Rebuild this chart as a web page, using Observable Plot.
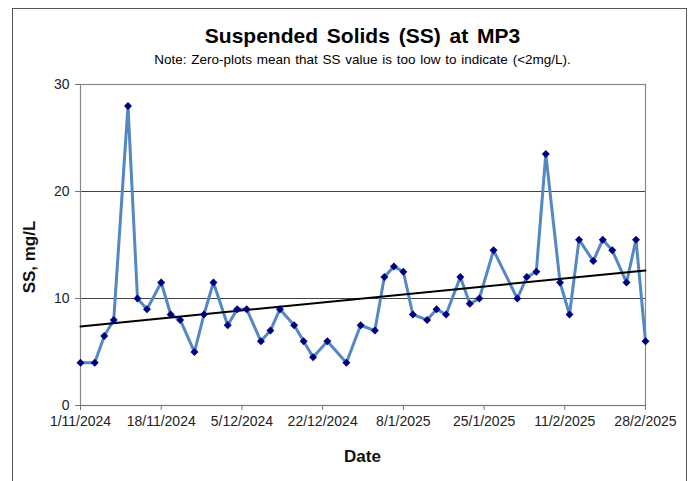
<!DOCTYPE html>
<html>
<head>
<meta charset="utf-8">
<script src="https://cdn.jsdelivr.net/npm/d3@7"></script>
<script src="https://cdn.jsdelivr.net/npm/@observablehq/plot@0.6"></script>
<style>
  html, body { margin: 0; padding: 0; background: #fff; }
  #wrap { position: relative; width: 694px; height: 481px; overflow: hidden; font-family: "Liberation Sans", Arial, sans-serif; }
  #border { position: absolute; left: 12px; top: 8px; width: 675px; height: 500px; border: 1px solid #555; box-sizing: border-box; }
  #title { position: absolute; left: 80px; width: 565px; top: 24px; text-align: center; font-size: 21px; font-weight: bold; color: #000; word-spacing: 3px; }
  #subtitle { position: absolute; left: 80px; width: 565px; top: 52px; text-align: center; font-size: 13.5px; color: #000; word-spacing: 1px; }
  #ylabel { position: absolute; left: 30px; top: 257px; transform: translate(-50%, -50%) rotate(-90deg); font-size: 17px; font-weight: bold; white-space: nowrap; color: #111; }
  #xlabel { position: absolute; left: 80px; width: 565px; top: 447px; text-align: center; font-size: 17px; font-weight: bold; color: #111; }
  #chart { position: absolute; left: 0; top: 70px; }
</style>
</head>
<body>
<div id="wrap">
  <div id="border"></div>
  <div id="title">Suspended Solids (SS) at MP3</div>
  <div id="subtitle">Note: Zero-plots mean that SS value is too low to indicate (&lt;2mg/L).</div>
  <div id="chart"></div>
  <div id="ylabel">SS, mg/L</div>
  <div id="xlabel">Date</div>
</div>
<script>
const dates = [
  "2024-11-01","2024-11-04","2024-11-06","2024-11-08","2024-11-11","2024-11-13","2024-11-15",
  "2024-11-18","2024-11-20","2024-11-22","2024-11-25","2024-11-27","2024-11-29",
  "2024-12-02","2024-12-04","2024-12-06","2024-12-09","2024-12-11","2024-12-13",
  "2024-12-16","2024-12-18","2024-12-20","2024-12-23","2024-12-27","2024-12-30",
  "2025-01-02","2025-01-04","2025-01-06","2025-01-08","2025-01-10","2025-01-13",
  "2025-01-15","2025-01-17","2025-01-20","2025-01-22","2025-01-24","2025-01-27",
  "2025-02-01","2025-02-03","2025-02-05","2025-02-07","2025-02-10","2025-02-12",
  "2025-02-14","2025-02-17","2025-02-19","2025-02-21","2025-02-24","2025-02-26","2025-02-28"
];
const ssValues = [
  4, 4, 6.5, 8, 28, 10, 9,
  11.5, 8.5, 8, 5, 8.5, 11.5,
  7.5, 9, 9, 6, 7, 9,
  7.5, 6, 4.5, 6, 4, 7.5,
  7, 12, 13, 12.5, 8.5, 8,
  9, 8.5, 12, 9.5, 10, 14.5,
  10, 12, 12.5, 23.5, 11.5, 8.5,
  15.5, 13.5, 15.5, 14.5, 11.5, 15.5, 6
];
const xTicks = ["2024-11-01","2024-11-18","2024-12-05","2024-12-22","2025-01-08","2025-01-25","2025-02-11","2025-02-28"];
const yTicks = [0, 10, 20, 30];

const parse = d3.utcParse("%Y-%m-%d");
const data = dates.map((d, i) => ({date: parse(d), ss: ssValues[i]}));
const tickDates = xTicks.map(parse);
const fmt = d => `${d.getUTCDate()}/${d.getUTCMonth() + 1}/${d.getUTCFullYear()}`;

const chart = Plot.plot({
  width: 694,
  height: 411,
  marginTop: 14,
  marginBottom: 76,
  marginLeft: 80,
  marginRight: 49,
  style: { fontFamily: "'Liberation Sans', Arial, sans-serif", fontSize: "14px", color: "#222", background: "transparent" },
  x: { type: "utc", domain: [tickDates[0], tickDates[tickDates.length - 1]] },
  y: { domain: [0, 30] },
  marks: [
    Plot.ruleY([10, 20], { stroke: "#444", strokeWidth: 1 }),
    Plot.frame({ stroke: "#888", strokeWidth: 1.2 }),
    Plot.axisX({ ticks: tickDates, tickFormat: fmt, tickSize: 5, tickPadding: 6, label: null, stroke: "#777", fontSize: 14 }),
    Plot.axisY({ ticks: yTicks, tickSize: 5, tickPadding: 6, label: null, stroke: "#777", fontSize: 14 }),
    Plot.ruleY([0], { stroke: "#777", strokeWidth: 1.2 }),
    Plot.line(data, { x: "date", y: "ss", stroke: "#5488C4", strokeWidth: 3, strokeLinejoin: "round" }),
    Plot.linearRegressionY(data, { x: "date", y: "ss", ci: 0, stroke: "#000", strokeWidth: 2 }),
    Plot.dot(data, { x: "date", y: "ss", symbol: "diamond2", r: 3.6, fill: "#000080", stroke: "none" })
  ]
});
document.getElementById("chart").appendChild(chart);
</script>
</body>
</html>
